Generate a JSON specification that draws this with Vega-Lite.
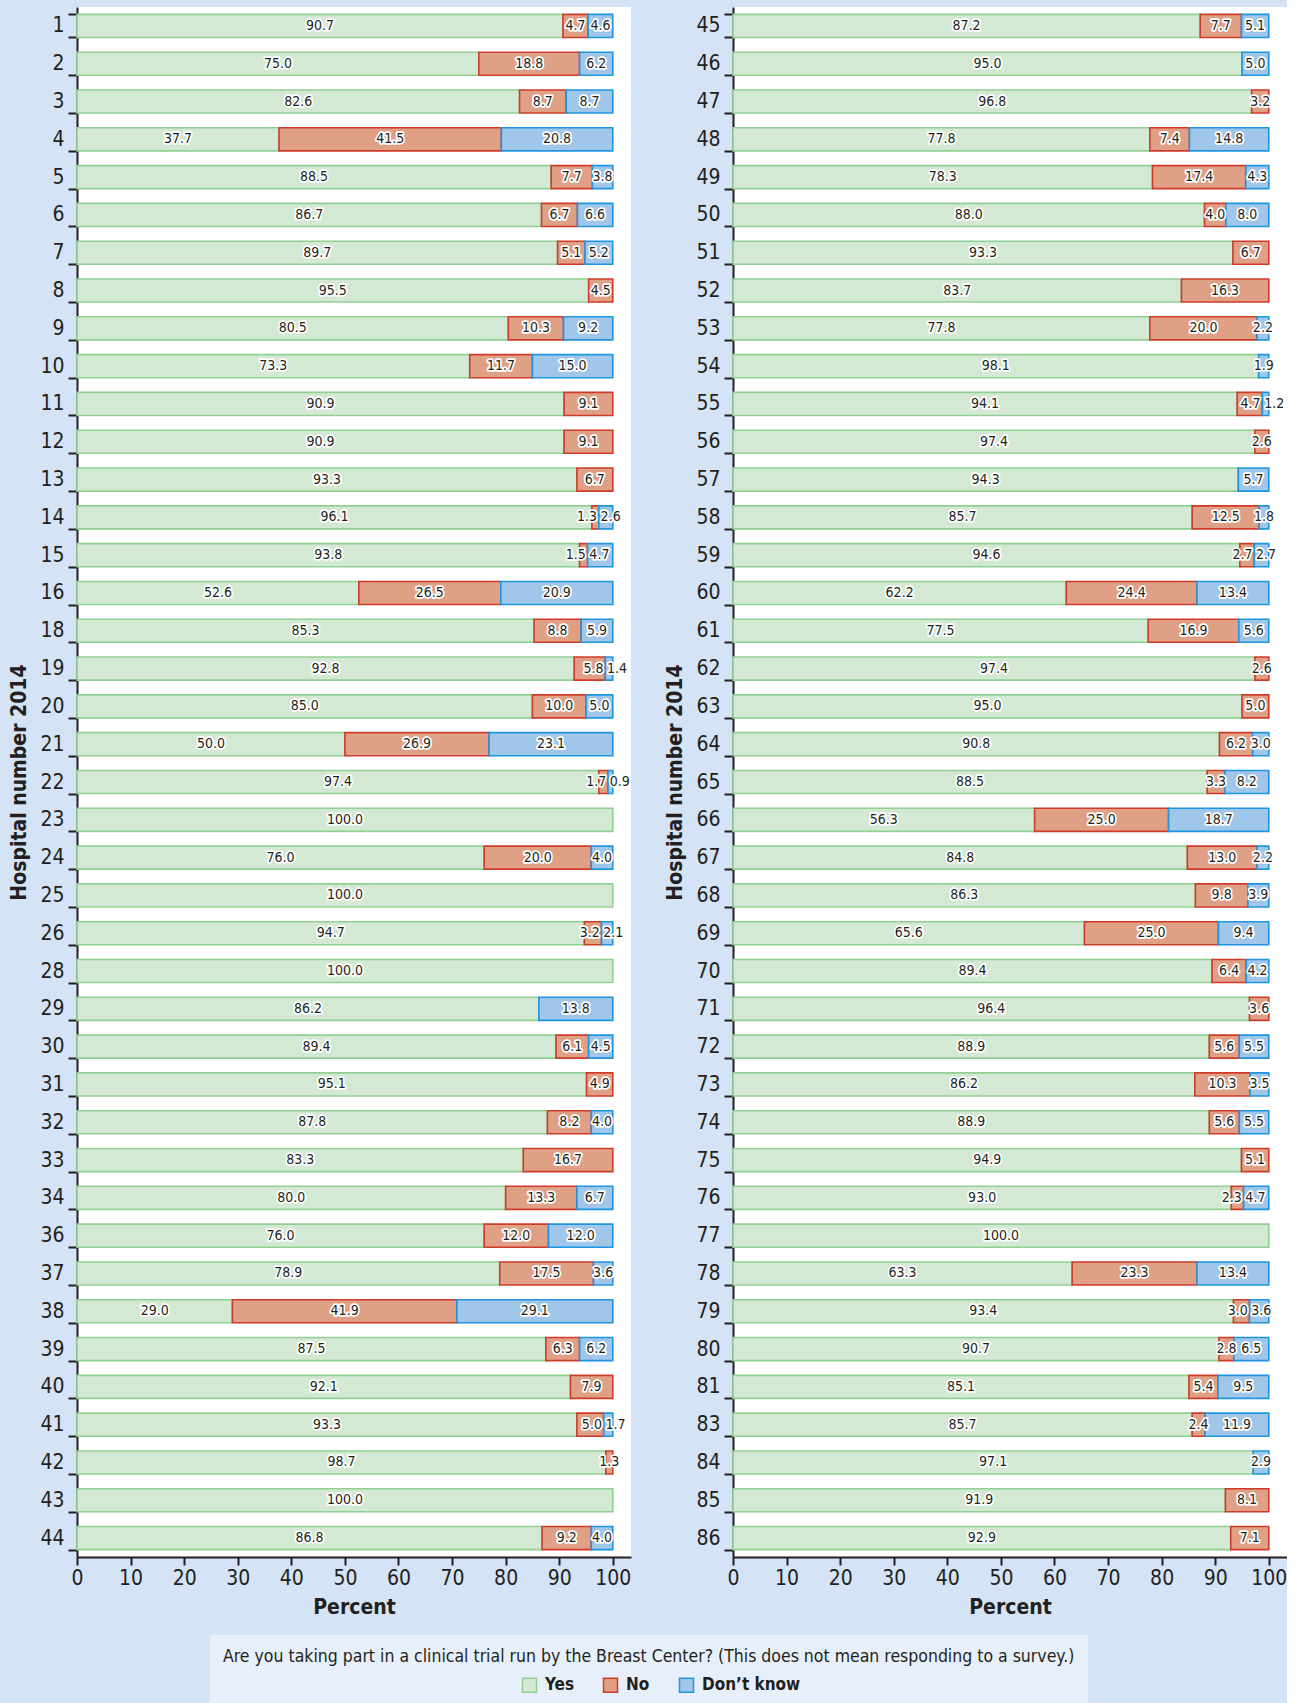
{
  "$schema": "https://vega.github.io/schema/vega-lite/v6.json",
  "background": "#d4e3f5",
  "padding": {"left": 8, "top": -4, "right": 0, "bottom": 0},
  "autosize": {"type": "pad"},
  "spacing": 33,
  "datasets": {
    "left": [
      {"h":"1","Yes":90.7,"No":4.7,"Don’t know":4.6},
      {"h":"2","Yes":75.0,"No":18.8,"Don’t know":6.2},
      {"h":"3","Yes":82.6,"No":8.7,"Don’t know":8.7},
      {"h":"4","Yes":37.7,"No":41.5,"Don’t know":20.8},
      {"h":"5","Yes":88.5,"No":7.7,"Don’t know":3.8},
      {"h":"6","Yes":86.7,"No":6.7,"Don’t know":6.6},
      {"h":"7","Yes":89.7,"No":5.1,"Don’t know":5.2},
      {"h":"8","Yes":95.5,"No":4.5,"Don’t know":0},
      {"h":"9","Yes":80.5,"No":10.3,"Don’t know":9.2},
      {"h":"10","Yes":73.3,"No":11.7,"Don’t know":15.0},
      {"h":"11","Yes":90.9,"No":9.1,"Don’t know":0},
      {"h":"12","Yes":90.9,"No":9.1,"Don’t know":0},
      {"h":"13","Yes":93.3,"No":6.7,"Don’t know":0},
      {"h":"14","Yes":96.1,"No":1.3,"Don’t know":2.6},
      {"h":"15","Yes":93.8,"No":1.5,"Don’t know":4.7},
      {"h":"16","Yes":52.6,"No":26.5,"Don’t know":20.9},
      {"h":"18","Yes":85.3,"No":8.8,"Don’t know":5.9},
      {"h":"19","Yes":92.8,"No":5.8,"Don’t know":1.4},
      {"h":"20","Yes":85.0,"No":10.0,"Don’t know":5.0},
      {"h":"21","Yes":50.0,"No":26.9,"Don’t know":23.1},
      {"h":"22","Yes":97.4,"No":1.7,"Don’t know":0.9},
      {"h":"23","Yes":100.0,"No":0,"Don’t know":0},
      {"h":"24","Yes":76.0,"No":20.0,"Don’t know":4.0},
      {"h":"25","Yes":100.0,"No":0,"Don’t know":0},
      {"h":"26","Yes":94.7,"No":3.2,"Don’t know":2.1},
      {"h":"28","Yes":100.0,"No":0,"Don’t know":0},
      {"h":"29","Yes":86.2,"No":0,"Don’t know":13.8},
      {"h":"30","Yes":89.4,"No":6.1,"Don’t know":4.5},
      {"h":"31","Yes":95.1,"No":4.9,"Don’t know":0},
      {"h":"32","Yes":87.8,"No":8.2,"Don’t know":4.0},
      {"h":"33","Yes":83.3,"No":16.7,"Don’t know":0},
      {"h":"34","Yes":80.0,"No":13.3,"Don’t know":6.7},
      {"h":"36","Yes":76.0,"No":12.0,"Don’t know":12.0},
      {"h":"37","Yes":78.9,"No":17.5,"Don’t know":3.6},
      {"h":"38","Yes":29.0,"No":41.9,"Don’t know":29.1},
      {"h":"39","Yes":87.5,"No":6.3,"Don’t know":6.2},
      {"h":"40","Yes":92.1,"No":7.9,"Don’t know":0},
      {"h":"41","Yes":93.3,"No":5.0,"Don’t know":1.7},
      {"h":"42","Yes":98.7,"No":1.3,"Don’t know":0},
      {"h":"43","Yes":100.0,"No":0,"Don’t know":0},
      {"h":"44","Yes":86.8,"No":9.2,"Don’t know":4.0}
    ],
    "right": [
      {"h":"45","Yes":87.2,"No":7.7,"Don’t know":5.1},
      {"h":"46","Yes":95.0,"No":0,"Don’t know":5.0},
      {"h":"47","Yes":96.8,"No":3.2,"Don’t know":0},
      {"h":"48","Yes":77.8,"No":7.4,"Don’t know":14.8},
      {"h":"49","Yes":78.3,"No":17.4,"Don’t know":4.3},
      {"h":"50","Yes":88.0,"No":4.0,"Don’t know":8.0},
      {"h":"51","Yes":93.3,"No":6.7,"Don’t know":0},
      {"h":"52","Yes":83.7,"No":16.3,"Don’t know":0},
      {"h":"53","Yes":77.8,"No":20.0,"Don’t know":2.2},
      {"h":"54","Yes":98.1,"No":0,"Don’t know":1.9},
      {"h":"55","Yes":94.1,"No":4.7,"Don’t know":1.2},
      {"h":"56","Yes":97.4,"No":2.6,"Don’t know":0},
      {"h":"57","Yes":94.3,"No":0,"Don’t know":5.7},
      {"h":"58","Yes":85.7,"No":12.5,"Don’t know":1.8},
      {"h":"59","Yes":94.6,"No":2.7,"Don’t know":2.7},
      {"h":"60","Yes":62.2,"No":24.4,"Don’t know":13.4},
      {"h":"61","Yes":77.5,"No":16.9,"Don’t know":5.6},
      {"h":"62","Yes":97.4,"No":2.6,"Don’t know":0},
      {"h":"63","Yes":95.0,"No":5.0,"Don’t know":0},
      {"h":"64","Yes":90.8,"No":6.2,"Don’t know":3.0},
      {"h":"65","Yes":88.5,"No":3.3,"Don’t know":8.2},
      {"h":"66","Yes":56.3,"No":25.0,"Don’t know":18.7},
      {"h":"67","Yes":84.8,"No":13.0,"Don’t know":2.2},
      {"h":"68","Yes":86.3,"No":9.8,"Don’t know":3.9},
      {"h":"69","Yes":65.6,"No":25.0,"Don’t know":9.4},
      {"h":"70","Yes":89.4,"No":6.4,"Don’t know":4.2},
      {"h":"71","Yes":96.4,"No":3.6,"Don’t know":0},
      {"h":"72","Yes":88.9,"No":5.6,"Don’t know":5.5},
      {"h":"73","Yes":86.2,"No":10.3,"Don’t know":3.5},
      {"h":"74","Yes":88.9,"No":5.6,"Don’t know":5.5},
      {"h":"75","Yes":94.9,"No":5.1,"Don’t know":0},
      {"h":"76","Yes":93.0,"No":2.3,"Don’t know":4.7},
      {"h":"77","Yes":100.0,"No":0,"Don’t know":0},
      {"h":"78","Yes":63.3,"No":23.3,"Don’t know":13.4},
      {"h":"79","Yes":93.4,"No":3.0,"Don’t know":3.6},
      {"h":"80","Yes":90.7,"No":2.8,"Don’t know":6.5},
      {"h":"81","Yes":85.1,"No":5.4,"Don’t know":9.5},
      {"h":"83","Yes":85.7,"No":2.4,"Don’t know":11.9},
      {"h":"84","Yes":97.1,"No":0,"Don’t know":2.9},
      {"h":"85","Yes":91.9,"No":8.1,"Don’t know":0},
      {"h":"86","Yes":92.9,"No":7.1,"Don’t know":0}
    ]
  },
  "hconcat": [
    {
      "width": 554, "height": 1550,
      "data": {"name": "left"},
      "transform": [
        {"fold": ["Yes", "No", "Don’t know"], "as": ["r", "v"]},
        {"filter": "datum.v > 0"},
        {"stack": "v", "groupby": ["h"], "sort": [{"field": "r", "order": "descending"}], "as": ["v0", "v1"]},
        {"calculate": "datum.r === 'No' && datum['Don’t know'] > 0 && (datum.No + datum['Don’t know']) < 8 ? datum.v1 - 2.2 : (datum.r === 'Don’t know' && datum.No > 0 && (datum.No + datum['Don’t know']) < 8 ? datum.v0 + 2.2 : (datum.v0 + datum.v1) / 2)", "as": "vm"}
      ],
      "encoding": {
        "y": {"field": "h", "type": "nominal", "sort": null, "title": "Hospital number 2014",
              "scale": {"paddingInner": 0.39, "paddingOuter": 0.195}}
      },
      "layer": [
        {
          "mark": {"type": "bar", "strokeWidth": 1.6},
          "encoding": {
            "x": {"field": "v0", "type": "quantitative", "title": "Percent",
                  "scale": {"domain": [0, 103.4], "nice": false, "zero": true},
                  "axis": {"values": [0,10,20,30,40,50,60,70,80,90,100]}},
            "x2": {"field": "v1"},
            "fill": {"field": "r", "type": "nominal",
                     "scale": {"domain": ["pad", "Yes", "No", "Don’t know"], "range": ["rgba(0,0,0,0)", "#d3e9d3", "#e0a086", "#a0c6ea"]},
                     "legend": {"title": "Are you taking part in a clinical trial run by the Breast Center? (This does not mean responding to a survey.)",
                                "labelExpr": "datum.value === 'pad' ? 'iiiiiiiiiiiiiiiiiiiiiiiiiiiiiiiiiiiiiiiiiiiiiiiiiiiiiiiiiiiiiiiiiiiiiiiiiiiiiiiiiiiiiiiiiiiiiii' : datum.label"}},
            "stroke": {"field": "r", "type": "nominal",
                       "scale": {"domain": ["pad", "Yes", "No", "Don’t know"], "range": ["rgba(0,0,0,0)", "#92cf92", "#cf3b2b", "#1f95df"]},
                       "legend": {"title": "Are you taking part in a clinical trial run by the Breast Center? (This does not mean responding to a survey.)",
                                  "labelExpr": "datum.value === 'pad' ? 'iiiiiiiiiiiiiiiiiiiiiiiiiiiiiiiiiiiiiiiiiiiiiiiiiiiiiiiiiiiiiiiiiiiiiiiiiiiiiiiiiiiiiiiiiiiiiii' : datum.label"}}
          }
        },
        {
          "mark": {"type": "text", "fontSize": 14, "fill": "white", "stroke": "white", "strokeWidth": 3.5, "strokeJoin": "round", "align": "center", "baseline": "middle"},
          "encoding": {"x": {"field": "vm", "type": "quantitative"}, "text": {"field": "v", "type": "quantitative", "format": ".1f"}}
        },
        {
          "mark": {"type": "text", "fontSize": 14, "fill": "#231f20", "align": "center", "baseline": "middle"},
          "encoding": {"x": {"field": "vm", "type": "quantitative"}, "text": {"field": "v", "type": "quantitative", "format": ".1f"}}
        }
      ]
    },
    {
      "width": 554, "height": 1550,
      "data": {"name": "right"},
      "transform": [
        {"fold": ["Yes", "No", "Don’t know"], "as": ["r", "v"]},
        {"filter": "datum.v > 0"},
        {"stack": "v", "groupby": ["h"], "sort": [{"field": "r", "order": "descending"}], "as": ["v0", "v1"]},
        {"calculate": "datum.r === 'No' && datum['Don’t know'] > 0 && (datum.No + datum['Don’t know']) < 8 ? datum.v1 - 2.2 : (datum.r === 'Don’t know' && datum.No > 0 && (datum.No + datum['Don’t know']) < 8 ? datum.v0 + 2.2 : (datum.v0 + datum.v1) / 2)", "as": "vm"}
      ],
      "encoding": {
        "y": {"field": "h", "type": "nominal", "sort": null, "title": "Hospital number 2014",
              "scale": {"paddingInner": 0.39, "paddingOuter": 0.195}}
      },
      "layer": [
        {
          "mark": {"type": "bar", "strokeWidth": 1.6},
          "encoding": {
            "x": {"field": "v0", "type": "quantitative", "title": "Percent",
                  "scale": {"domain": [0, 103.4], "nice": false, "zero": true},
                  "axis": {"values": [0,10,20,30,40,50,60,70,80,90,100]}},
            "x2": {"field": "v1"},
            "fill": {"field": "r", "type": "nominal",
                     "scale": {"domain": ["pad", "Yes", "No", "Don’t know"], "range": ["rgba(0,0,0,0)", "#d3e9d3", "#e0a086", "#a0c6ea"]},
                     "legend": {"title": "Are you taking part in a clinical trial run by the Breast Center? (This does not mean responding to a survey.)",
                                "labelExpr": "datum.value === 'pad' ? 'iiiiiiiiiiiiiiiiiiiiiiiiiiiiiiiiiiiiiiiiiiiiiiiiiiiiiiiiiiiiiiiiiiiiiiiiiiiiiiiiiiiiiiiiiiiiiii' : datum.label"}},
            "stroke": {"field": "r", "type": "nominal",
                       "scale": {"domain": ["pad", "Yes", "No", "Don’t know"], "range": ["rgba(0,0,0,0)", "#92cf92", "#cf3b2b", "#1f95df"]},
                       "legend": {"title": "Are you taking part in a clinical trial run by the Breast Center? (This does not mean responding to a survey.)",
                                  "labelExpr": "datum.value === 'pad' ? 'iiiiiiiiiiiiiiiiiiiiiiiiiiiiiiiiiiiiiiiiiiiiiiiiiiiiiiiiiiiiiiiiiiiiiiiiiiiiiiiiiiiiiiiiiiiiiii' : datum.label"}}
          }
        },
        {
          "mark": {"type": "text", "fontSize": 14, "fill": "white", "stroke": "white", "strokeWidth": 3.5, "strokeJoin": "round", "align": "center", "baseline": "middle"},
          "encoding": {"x": {"field": "vm", "type": "quantitative"}, "text": {"field": "v", "type": "quantitative", "format": ".1f"}}
        },
        {
          "mark": {"type": "text", "fontSize": 14, "fill": "#231f20", "align": "center", "baseline": "middle"},
          "encoding": {"x": {"field": "vm", "type": "quantitative"}, "text": {"field": "v", "type": "quantitative", "format": ".1f"}}
        }
      ]
    }
  ],
  "resolve": {"scale": {"y": "independent", "x": "independent"}},
  "config": {
    "font": "'Liberation Sans Narrow', 'DejaVu Sans Condensed', 'Open Sans', sans-serif",
    "view": {"stroke": null, "fill": "white"},
    "axis": {
      "grid": false,
      "domainColor": "#231f20", "domainWidth": 2,
      "tickColor": "#231f20", "tickWidth": 2,
      "labelColor": "#231f20", "labelFontSize": 21, "labelFlush": false, "labelOverlap": false,
      "titleColor": "#231f20", "titleFontSize": 21, "titleFontWeight": "bold"
    },
    "axisY": {"tickSize": 9, "tickBand": "extent", "labelPadding": 4, "titlePadding": 10},
    "axisX": {"tickSize": 8, "labelPadding": 2, "titlePadding": 8},
    "legend": {
      "orient": "none", "legendX": 133, "legendY": 1628,
      "direction": "horizontal",
      "fillColor": "#e7effa", "padding": 13,
      "titleFontSize": 17.5, "titleFontWeight": "normal", "titleColor": "#231f20", "titleLimit": 1200, "titlePadding": 11,
      "labelFontSize": 17, "labelFontWeight": "bold", "labelColor": "#231f20", "labelLimit": 248, "labelOffset": 7,
      "labelOpacity": {"expr": "datum.value === 'pad' ? 0 : 1"},
      "symbolType": "square", "symbolSize": 196, "symbolStrokeWidth": 1.5,
      "columnPadding": 26
    }
  }
}
